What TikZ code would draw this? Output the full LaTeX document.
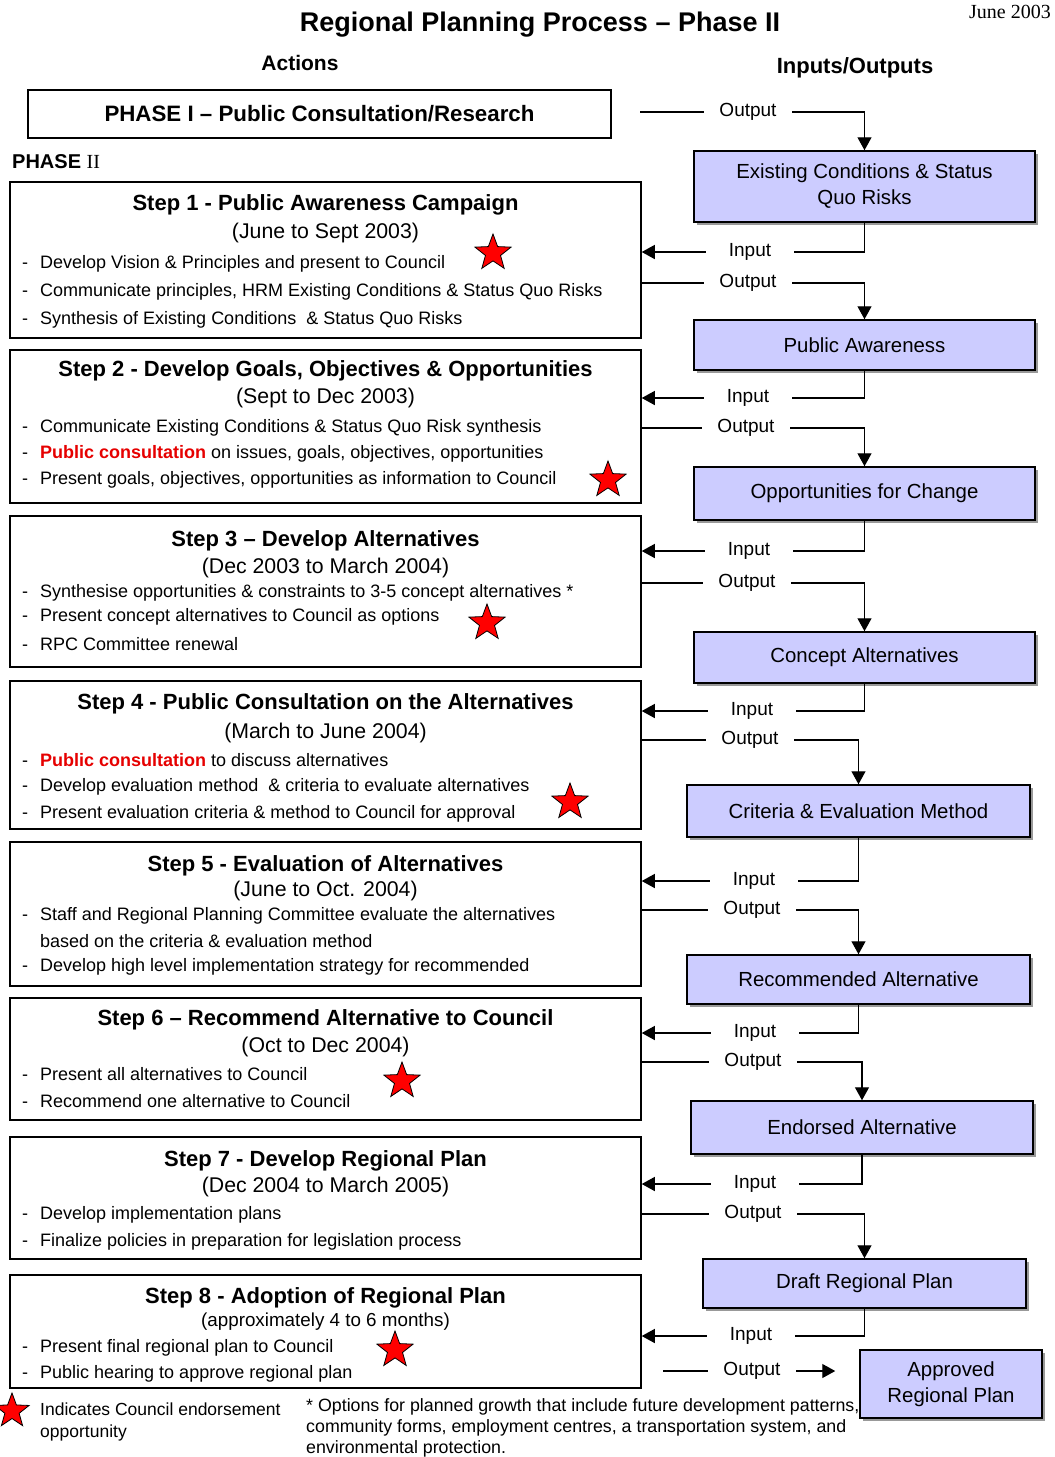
\documentclass[tikz,border=0pt]{standalone}
\usepackage{fontspec}
\setmainfont{Liberation Sans}
\newfontfamily\timesfont{Liberation Serif}
\usepackage{tikz}
\usetikzlibrary{arrows.meta,shapes.geometric,shadows}
\definecolor{iofill}{RGB}{204,204,255}
\definecolor{pcred}{RGB}{230,0,0}
\newcommand{\bl}[1]{\makebox[18pt][l]{-}#1}
\newcommand{\pc}{\textcolor{pcred}{\textbf{Public consultation}}}

\begin{document}
\begin{tikzpicture}[x=1pt, y=-1pt]
	\tikzstyle{every node} = [rectangle, inner sep=0pt, font=\fontsize{18}{21}\selectfont]
	\tikzstyle{stepbox} = [draw, line width=1.5pt, minimum width=631pt]
	\tikzstyle{iobox} = [draw, line width=1.5pt, fill=iofill, align=center,
		drop shadow={shadow xshift=3pt, shadow yshift=-3pt, fill=black!40, opacity=1},
		font=\fontsize{20.4}{26}\selectfont]
	\tikzstyle{title} = [font=\bfseries\fontsize{22}{26}\selectfont]
	\tikzstyle{dates} = [font=\fontsize{21.3}{25}\selectfont]
	\tikzstyle{item} = [anchor=west]
	\tikzstyle{io} = [minimum width=88pt, font=\fontsize{19}{22}\selectfont]
	\tikzstyle{plain} = [line width=1.3pt]
	\tikzstyle{flow} = [line width=1.3pt, -{Triangle[width=14pt,length=13pt]}]
	\tikzstyle{endorse} = [star, star points=5, star point ratio=2.4, minimum size=38pt,
		fill=red, draw=black, line width=0.8pt]
	\path[use as bounding box, fill=white] (0,0) rectangle (1055,1457);

	% headings
	\node[font=\bfseries\fontsize{27}{30}\selectfont] (head) at (540,25) {Regional Planning Process -- Phase II};
	\node[font=\timesfont\fontsize{20}{22}\selectfont] (date) at (1010,12) {June 2003};
	\node[font=\bfseries\fontsize{21}{24}\selectfont] (act) at (300,63) {Actions};
	\node[font=\bfseries\fontsize{22}{25}\selectfont] (inout) at (855,68) {Inputs/Outputs};
	\node[stepbox, minimum width=583pt, minimum height=48pt, font=\bfseries\fontsize{22.3}{26}\selectfont] (p1) at (319.5,114) {PHASE I -- Public Consultation/Research};
	\node[anchor=west, font=\bfseries\fontsize{20}{22}\selectfont] (p2) at (12,162) {PHASE {\mdseries\timesfont II}};

	% actions
	\node[stepbox, minimum height=156pt] (s1) at (325.5,260) {};
	\node[title] (s1t) at (325.5,205) {Step 1 - Public Awareness Campaign};
	\node[dates] (s1d) at (325.5,233) {(June to Sept 2003)};
	\node[item] (s1a) at (22,264) {\bl{Develop Vision \& Principles and present to Council}};
	\node[item] (s1b) at (22,292) {\bl{Communicate principles, HRM Existing Conditions \& Status Quo Risks}};
	\node[item] (s1c) at (22,320) {\bl{Synthesis of Existing Conditions \ \& Status Quo Risks}};
	\node[endorse] (e1) at (493,253) {};

	\node[stepbox, minimum height=153pt] (s2) at (325.5,426.5) {};
	\node[title] (s2t) at (325.5,371) {Step 2 - Develop Goals, Objectives \& Opportunities};
	\node[dates] (s2d) at (325.5,398) {(Sept to Dec 2003)};
	\node[item] (s2a) at (22,428) {\bl{Communicate Existing Conditions \& Status Quo Risk synthesis}};
	\node[item] (s2b) at (22,454) {\bl{\pc{} on issues, goals, objectives, opportunities}};
	\node[item] (s2c) at (22,480) {\bl{Present goals, objectives, opportunities as information to Council}};
	\node[endorse] (e2) at (608,480) {};

	\node[stepbox, minimum height=151pt] (s3) at (325.5,591.5) {};
	\node[title] (s3t) at (325.5,541) {Step 3 -- Develop Alternatives};
	\node[dates] (s3d) at (325.5,568) {(Dec 2003 to March 2004)};
	\node[item] (s3a) at (22,593) {\bl{Synthesise opportunities \& constraints to 3-5 concept alternatives *}};
	\node[item] (s3b) at (22,617) {\bl{Present concept alternatives to Council as options}};
	\node[item] (s3c) at (22,644) {\bl{RPC Committee renewal}};
	\node[endorse] (e3) at (487,623) {};

	\node[stepbox, minimum height=148pt] (s4) at (325.5,755) {};
	\node[title] (s4t) at (325.5,704) {Step 4 - Public Consultation on the Alternatives};
	\node[dates] (s4d) at (325.5,733) {(March to June 2004)};
	\node[item] (s4a) at (22,760) {\bl{\pc{} to discuss alternatives}};
	\node[item] (s4b) at (22,787) {\bl{Develop evaluation method \ \& criteria to evaluate alternatives}};
	\node[item] (s4c) at (22,814) {\bl{Present evaluation criteria \& method to Council for approval}};
	\node[endorse] (e4) at (570,802) {};

	\node[stepbox, minimum height=144pt] (s5) at (325.5,914) {};
	\node[title] (s5t) at (325.5,866) {Step 5 - Evaluation of Alternatives};
	\node[dates] (s5d) at (325.5,891) {(June to Oct. 2004)};
	\node[item] (s5a) at (22,916) {\bl{Staff and Regional Planning Committee evaluate the alternatives}};
	\node[item] (s5b) at (40,941) {based on the criteria \& evaluation method};
	\node[item] (s5c) at (22,967) {\bl{Develop high level implementation strategy for recommended}};

	\node[stepbox, minimum height=122pt] (s6) at (325.5,1059) {};
	\node[title] (s6t) at (325.5,1020) {Step 6 -- Recommend Alternative to Council};
	\node[dates] (s6d) at (325.5,1047) {(Oct to Dec 2004)};
	\node[item] (s6a) at (22,1074) {\bl{Present all alternatives to Council}};
	\node[item] (s6b) at (22,1101) {\bl{Recommend one alternative to Council}};
	\node[endorse] (e6) at (402,1081) {};

	\node[stepbox, minimum height=122pt] (s7) at (325.5,1198) {};
	\node[title] (s7t) at (325.5,1161) {Step 7 - Develop Regional Plan};
	\node[dates] (s7d) at (325.5,1187) {(Dec 2004 to March 2005)};
	\node[item] (s7a) at (22,1215) {\bl{Develop implementation plans}};
	\node[item] (s7b) at (22,1242) {\bl{Finalize policies in preparation for legislation process}};

	\node[stepbox, minimum height=113pt] (s8) at (325.5,1331.5) {};
	\node[title] (s8t) at (325.5,1298) {Step 8 - Adoption of Regional Plan};
	\node[dates, font=\fontsize{18.8}{22}\selectfont] (s8d) at (325.5,1322) {(approximately 4 to 6 months)};
	\node[item] (s8a) at (22,1348) {\bl{Present final regional plan to Council}};
	\node[item] (s8b) at (22,1374) {\bl{Public hearing to approve regional plan}};
	\node[endorse] (e8) at (395,1350) {};

	% inputs / outputs
	\node[iobox, minimum width=341pt, minimum height=71pt] (r1) at (864.5,186.5) {Existing Conditions \& Status\\Quo Risks};
	\node[iobox, minimum width=341pt, minimum height=50pt] (r2) at (864.5,345) {Public Awareness};
	\node[iobox, minimum width=341pt, minimum height=53pt] (r3) at (864.5,493.5) {Opportunities for Change};
	\node[iobox, minimum width=341pt, minimum height=51pt] (r4) at (864.5,657.5) {Concept Alternatives};
	\node[iobox, minimum width=343pt, minimum height=52pt] (r5) at (858.5,811) {Criteria \& Evaluation Method};
	\node[iobox, minimum width=343pt, minimum height=49pt] (r6) at (858.5,979.5) {Recommended Alternative};
	\node[iobox, minimum width=342pt, minimum height=53pt] (r7) at (862,1127.5) {Endorsed Alternative};
	\node[iobox, minimum width=323pt, minimum height=49pt] (r8) at (864.5,1283.5) {Draft Regional Plan};
	\node[iobox, minimum width=182pt, minimum height=68pt] (r9) at (951,1384) {Approved\\Regional Plan};

	% key and note
	\node[endorse, minimum size=36pt] (key) at (12,1411) {};
	\node[anchor=north west, align=left, font=\fontsize{17.5}{22}\selectfont] (keyt) at (40,1403) {Indicates Council endorsement\\opportunity};
	\node[anchor=north west, align=left, font=\fontsize{17.8}{21}\selectfont] (note) at (306,1398) {* Options for planned growth that include future development patterns,\\community forms, employment centres, a transportation system, and\\environmental protection.};

	% connectors
	\node[io] (o0) at (748,112) {Output};
	\coordinate (p1out) at (640,112);
	\draw[plain] (p1out) -- (o0.west);
	\draw[flow]  (o0.east) -| (r1.north);

	\node[io] (i1) at (750,252) {Input};
	\node[io] (o1) at (748,283) {Output};
	\draw[plain] (r1.south) |- (i1.east);
	\draw[flow]  (i1.west) -- (i1.west -| s1.east);
	\draw[plain] (o1.west -| s1.east) -- (o1.west);
	\draw[flow]  (o1.east) -| (r2.north);

	\node[io] (i2) at (748,398) {Input};
	\node[io] (o2) at (746,428) {Output};
	\draw[plain] (r2.south) |- (i2.east);
	\draw[flow]  (i2.west) -- (i2.west -| s2.east);
	\draw[plain] (o2.west -| s2.east) -- (o2.west);
	\draw[flow]  (o2.east) -| (r3.north);

	\node[io] (i3) at (749,551) {Input};
	\node[io] (o3) at (747,583) {Output};
	\draw[plain] (r3.south) |- (i3.east);
	\draw[flow]  (i3.west) -- (i3.west -| s3.east);
	\draw[plain] (o3.west -| s3.east) -- (o3.west);
	\draw[flow]  (o3.east) -| (r4.north);

	\node[io] (i4) at (752,711) {Input};
	\node[io] (o4) at (750,740) {Output};
	\draw[plain] (r4.south) |- (i4.east);
	\draw[flow]  (i4.west) -- (i4.west -| s4.east);
	\draw[plain] (o4.west -| s4.east) -- (o4.west);
	\draw[flow]  (o4.east) -| (r5.north);

	\node[io] (i5) at (754,881) {Input};
	\node[io] (o5) at (752,910) {Output};
	\draw[plain] (r5.south) |- (i5.east);
	\draw[flow]  (i5.west) -- (i5.west -| s5.east);
	\draw[plain] (o5.west -| s5.east) -- (o5.west);
	\draw[flow]  (o5.east) -| (r6.north);

	\node[io] (i6) at (755,1033) {Input};
	\node[io] (o6) at (753,1062) {Output};
	\draw[plain] (r6.south) |- (i6.east);
	\draw[flow]  (i6.west) -- (i6.west -| s6.east);
	\draw[plain] (o6.west -| s6.east) -- (o6.west);
	\draw[flow]  (o6.east) -| (r7.north);

	\node[io] (i7) at (755,1184) {Input};
	\node[io] (o7) at (753,1214) {Output};
	\draw[plain] (r7.south) |- (i7.east);
	\draw[flow]  (i7.west) -- (i7.west -| s7.east);
	\draw[plain] (o7.west -| s7.east) -- (o7.west);
	\draw[flow]  (o7.east) -| (r8.north);

	\node[io] (i8) at (751,1336) {Input};
	\node[io] (o8) at (752,1371) {Output};
	\coordinate (s8out) at (663,1371);
	\draw[plain] (r8.south) |- (i8.east);
	\draw[flow]  (i8.west) -- (i8.west -| s8.east);
	\draw[plain] (s8out) -- (o8.west);
	\draw[flow, shorten >=24pt] (o8.east) -- (o8.east -| r9.west);
\end{tikzpicture}
\end{document}
